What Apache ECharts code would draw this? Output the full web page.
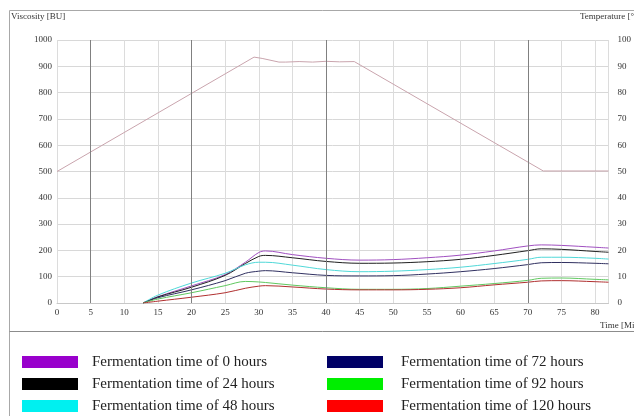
<!DOCTYPE html>
<html>
<head>
<meta charset="utf-8">
<script src="https://cdn.jsdelivr.net/npm/echarts@6/dist/echarts.min.js"></script>
<style>
  html, body { margin: 0; padding: 0; background: #fff; }
  #chart { width: 634px; height: 416px; }
</style>
</head>
<body>
<div id="chart"></div>
<script>
// time axis (minutes) where the viscosity curves were read
const timeMin = [12.8, 15, 20, 25, 28, 30, 31, 35, 40, 45, 50, 55, 60, 65, 70, 72, 75, 80, 82];

// viscosity [BU] per fermentation time
const visc0h   = [0, 24, 65, 108, 155, 192, 198, 184, 170, 163, 165, 172, 182, 198, 217, 221, 219, 212, 209];
const visc24h  = [0, 23, 60, 105, 150, 177, 181, 172, 158, 151, 152, 157, 166, 181, 199, 206, 204, 196, 193];
const visc48h  = [0, 30, 76, 113, 145, 155, 155, 144, 127, 119, 121, 127, 136, 150, 166, 174, 174, 170, 167];
const visc72h  = [0, 20, 50, 85, 113, 121, 123, 115, 105, 103, 104, 110, 119, 131, 146, 153, 154, 151, 149];
const visc92h  = [0, 15, 39, 66, 82, 80, 78, 68, 58, 52, 52, 55, 64, 74, 86, 94, 95, 90, 88];
const visc120h = [0, 7, 22, 39, 56, 64, 66, 61, 53, 50, 50, 52, 58, 69, 79, 84, 85, 81, 79];

// temperature profile [°C]
const tempTime = [0, 29.3, 30.5, 33, 34, 36, 38, 40, 42, 44.2, 72.3, 82];
const tempVals = [50, 93.5, 93.0, 91.6, 91.6, 91.8, 91.6, 91.9, 91.7, 91.8, 50.2, 50.2];

// darker event lines on the time axis
const eventMarks = [5, 20, 40, 70];

const seriesNames = [
  'Fermentation time of 0 hours',
  'Fermentation time of 24 hours',
  'Fermentation time of 48 hours',
  'Fermentation time of 72 hours',
  'Fermentation time of 92 hours',
  'Fermentation time of 120 hours'
];
const seriesColors = ['#9900cc', '#000000', '#00f0f0', '#000066', '#00ee00', '#ff0000'];
const lineColors = ['#a050c0', '#202020', '#50d8d8', '#303060', '#60c860', '#b03030'];
const viscSets = [visc0h, visc24h, visc48h, visc72h, visc92h, visc120h];

const serif = '"Liberation Serif", "DejaVu Serif", serif';

const chart = echarts.init(document.getElementById('chart'));

const series = viscSets.map((vals, i) => ({
  name: seriesNames[i],
  type: 'line',
  yAxisIndex: 0,
  data: timeMin.map((t, j) => [t, vals[j]]),
  smooth: 0.35,
  showSymbol: false,
  color: seriesColors[i],
  lineStyle: { color: lineColors[i], width: 1 },
  silent: true,
  z: 3
}));

series.push({
  name: 'Temperature',
  type: 'line',
  yAxisIndex: 1,
  data: tempTime.map((t, j) => [t, tempVals[j]]),
  showSymbol: false,
  lineStyle: { color: '#c9a4ad', width: 1 },
  silent: true,
  z: 2,
  markLine: {
    silent: true,
    symbol: 'none',
    label: { show: false },
    lineStyle: { color: '#808080', width: 1, type: 'solid' },
    data: eventMarks.map(v => ({ xAxis: v }))
  }
});

const legendBase = {
  orient: 'vertical',
  icon: 'rect',
  itemWidth: 56,
  itemHeight: 12,
  itemGap: 6,
  padding: 0,
  top: 354,
  selectedMode: false,
  textStyle: { fontFamily: serif, fontSize: 15, color: '#222', lineHeight: 16 }
};

const plainNum = v => String(v);

chart.setOption({
  animation: false,
  textStyle: { fontFamily: serif },
  grid: { left: 57, right: 24, top: 40, bottom: 113 },
  legend: [
    Object.assign({}, legendBase, {
      left: 22,
      data: seriesNames.slice(0, 3),
      textStyle: Object.assign({}, legendBase.textStyle, { padding: [0, 0, 0, 9] })
    }),
    Object.assign({}, legendBase, {
      left: 327,
      data: seriesNames.slice(3),
      textStyle: Object.assign({}, legendBase.textStyle, { padding: [0, 0, 0, 13] })
    })
  ],
  xAxis: {
    type: 'value',
    min: 0,
    max: 82,
    interval: 5,
    axisLine: { show: true, lineStyle: { color: '#c8c8c8' } },
    axisTick: { show: false },
    axisLabel: { showMaxLabel: false, margin: 5, fontSize: 9, color: '#333', fontFamily: serif, formatter: plainNum },
    splitLine: { show: true, lineStyle: { color: '#dcdcdc', width: 1 } }
  },
  yAxis: [
    {
      type: 'value',
      min: 0,
      max: 1000,
      interval: 100,
      axisLine: { show: false },
      axisTick: { show: false },
      axisLabel: { margin: 5, fontSize: 9, color: '#333', fontFamily: serif, formatter: plainNum },
      splitLine: { show: true, lineStyle: { color: '#d8d8d8', width: 1 } }
    },
    {
      type: 'value',
      position: 'right',
      min: 0,
      max: 100,
      interval: 10,
      axisLine: { show: false },
      axisTick: { show: false },
      axisLabel: { margin: 9, fontSize: 9, color: '#333', fontFamily: serif, formatter: plainNum },
      splitLine: { show: false }
    }
  ],
  graphic: [
    {
      type: 'rect',
      silent: true,
      shape: { x: 9.5, y: 10.5, width: 700, height: 500 },
      style: { fill: 'none', stroke: '#a8a8a8', lineWidth: 1 }
    },
    {
      type: 'line',
      silent: true,
      shape: { x1: 9.5, y1: 331.5, x2: 640, y2: 331.5 },
      style: { stroke: '#8c8c8c', lineWidth: 1 }
    },
    {
      type: 'text', left: 11, top: 12, silent: true,
      style: { text: 'Viscosity [BU]', font: '9px ' + serif, fill: '#333' }
    },
    {
      type: 'text', left: 580, top: 12, silent: true,
      style: { text: 'Temperature [°C]', font: '9px ' + serif, fill: '#333' }
    },
    {
      type: 'text', left: 600, top: 321, silent: true,
      style: { text: 'Time [Min]', font: '9px ' + serif, fill: '#333' }
    }
  ],
  series: series
});
</script>
</body>
</html>
